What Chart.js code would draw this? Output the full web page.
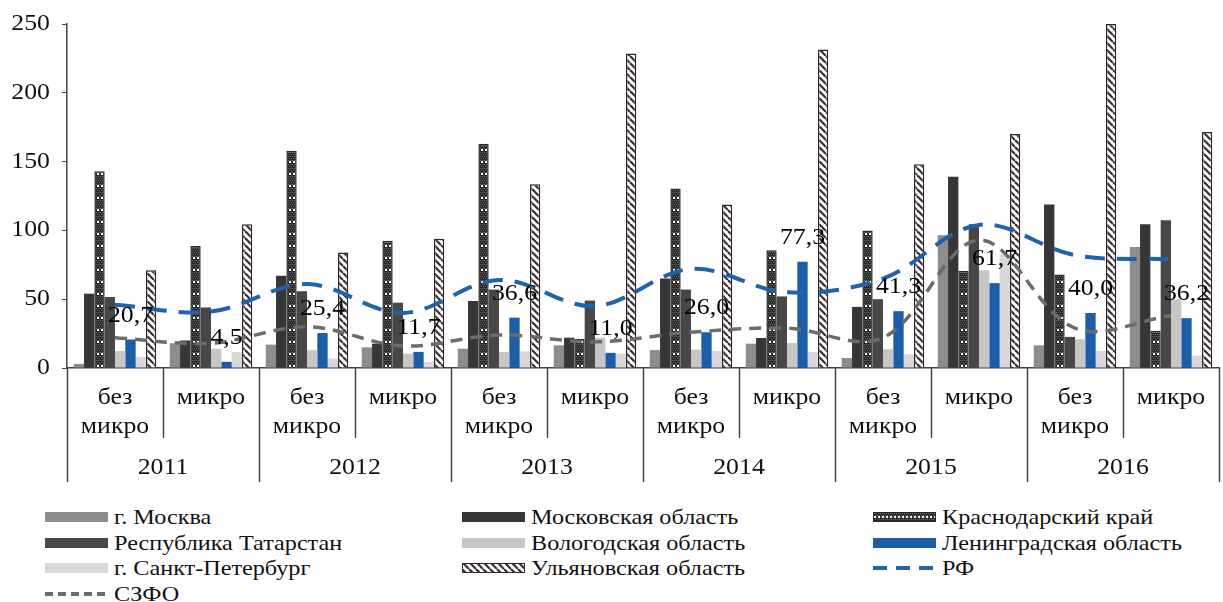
<!DOCTYPE html>
<html lang="ru">
<head>
<meta charset="utf-8">
<title>Chart</title>
<script src="https://cdn.jsdelivr.net/npm/chart.js@4.4.1/dist/chart.umd.min.js"></script>
<style>
  body { margin: 0; background: #fff; font-family: "Liberation Serif", "DejaVu Serif", "Times New Roman", serif; }
  #wrap { position: relative; width: 1223px; height: 495px; }
  #legend { position: absolute; left: 0; top: 504px; width: 1223px; }
  .item { position: absolute; display: flex; align-items: center; font-size: 22px; color: #111; white-space: nowrap; }
  .item canvas { margin-right: 6px; }
  .item span { display: inline-block; transform: scaleX(1.1); transform-origin: left center; }
</style>
</head>
<body>
<div id="wrap"><canvas id="myChart"></canvas></div>
<div id="legend"></div>

<script>
// Kategorien
const categories = [
  ['без', 'микро'], 'микро', ['без', 'микро'], 'микро', ['без', 'микро'], 'микро',
  ['без', 'микро'], 'микро', ['без', 'микро'], 'микро', ['без', 'микро'], 'микро'
];
const years = ['2011', '2012', '2013', '2014', '2015', '2016'];
const yTicks = [0, 50, 100, 150, 200, 250];

// Werte
const moskva     = [3, 18, 17, 15, 14, 16.5, 13, 17.7, 7.3, 96.5, 16.5, 88];
const moskObl    = [54, 20, 67, 17.7, 48.7, 22, 65, 21.8, 44.4, 139, 118.8, 104.5];
const krasnodar  = [143, 88.7, 157.8, 92.4, 163, 21, 130.4, 85.6, 100, 70.5, 68, 27];
const tatarstan  = [51.6, 44, 55.8, 47.5, 57, 49, 57, 52, 50, 104.5, 22.6, 107.4];
const vologda    = [12.4, 14, 12.9, 10.5, 11.6, 22, 13.4, 18.2, 13.6, 71, 20.9, 50];
const leningrad  = [20.7, 4.5, 25.4, 11.7, 36.6, 11.0, 26.0, 77.3, 41.3, 61.7, 40.0, 36.2];
const spb        = [8, 11.6, 6.8, 4.4, 12, 10.5, 12.4, 11.6, 10, 83, 12.4, 9];
const ulyanovsk  = [71, 104.5, 84, 94, 133.6, 228.6, 118.8, 231.5, 148, 170, 250, 171.6];
const rf         = [46, 41, 61, 40, 64, 45, 72, 55, 65, 104, 82, 79];
const szfo       = [22, 18, 30, 16, 24, 19, 26, 29, 22, 93, 29, 38];

const FONT = '"Liberation Serif", "DejaVu Serif", "Times New Roman", serif';

// Muster für Balken
function hatchPattern() {
    const c = document.createElement('canvas');
    c.width = 7; c.height = 7;
    const g = c.getContext('2d');
    g.fillStyle = '#fff';
    g.fillRect(0, 0, 7, 7);
    g.strokeStyle = '#3e2c30';
    g.lineWidth = 2.2;
    for (let k = -1; k <= 1; k++) {
        g.beginPath();
        g.moveTo(k * 7, 0);
        g.lineTo(k * 7 + 7, 7);
        g.stroke();
    }
    return g.createPattern(c, 'repeat');
}

function dotPattern() {
    const c = document.createElement('canvas');
    c.width = 4; c.height = 12;
    const g = c.getContext('2d');
    g.fillStyle = '#262626';
    g.fillRect(0, 0, 4, 12);
    g.fillStyle = '#6e6e6e';
    for (let y = 0; y < 12; y += 2) {
        g.fillRect((y / 2) % 2 === 0 ? 0 : 1, y, 1, 1);
        g.fillRect((y / 2) % 2 === 0 ? 2 : 3, y, 1, 1);
    }
    g.fillStyle = '#eee';
    g.fillRect(1, 5, 2, 2);
    return g.createPattern(c, 'repeat');
}

const hatch = hatchPattern();
const dots = dotPattern();

const barSeries = [
    { label: 'г. Москва', data: moskva, fill: '#8d8d8d', border: 0 },
    { label: 'Московская область', data: moskObl, fill: '#363636', border: 0 },
    { label: 'Краснодарский край', data: krasnodar, fill: dots, border: 1.5 },
    { label: 'Республика Татарстан', data: tatarstan, fill: '#474747', border: 0 },
    { label: 'Вологодская область', data: vologda, fill: '#c6c6c6', border: 0 },
    { label: 'Ленинградская область', data: leningrad, fill: '#1c5ca8', border: 0 },
    { label: ' г. Санкт-Петербург', data: spb, fill: '#d8d8d8', border: 0 },
    { label: 'Ульяновская область', data: ulyanovsk, fill: hatch, border: 1.5 }
];

const datasets = barSeries.map(s => ({
    type: 'bar',
    label: s.label,
    data: s.data,
    backgroundColor: s.fill,
    borderColor: '#2a2a2a',
    borderWidth: s.border,
    borderSkipped: 'bottom',
    categoryPercentage: 0.86,
    barPercentage: 1.0,
    order: 2
}));

datasets.push({
    type: 'line', label: 'РФ', data: rf,
    borderColor: '#1f62ad', borderWidth: 4, borderDash: [20, 12],
    pointRadius: 0, tension: 0.35, fill: false, order: 0
});
datasets.push({
    type: 'line', label: 'СЗФО', data: szfo,
    borderColor: '#6c6c6c', borderWidth: 3.5, borderDash: [12, 8],
    pointRadius: 0, tension: 0.35, fill: false, order: 1
});

// Text etwas breiter ziehen, wie im Original
function wideText(ctx, t, x, y) {
    ctx.save();
    ctx.translate(x, y);
    ctx.scale(1.12, 1);
    ctx.fillText(t, 0, 0);
    ctx.restore();
}

// zweistufige Achse unten + Beschriftung Ленинградская область
const axisPlugin = {
    id: 'axisPlugin',
    afterDatasetsDraw(chart) {
        const ctx = chart.ctx;
        const meta = chart.getDatasetMeta(5);
        ctx.save();
        ctx.font = '23px ' + FONT;
        ctx.fillStyle = '#000';
        ctx.textAlign = 'center';
        ctx.textBaseline = 'middle';
        meta.data.forEach((bar, i) => {
            wideText(ctx, leningrad[i].toFixed(1).replace('.', ','), bar.x, bar.y - 24);
        });
        ctx.restore();
    },
    afterDraw(chart) {
        const ctx = chart.ctx;
        const xs = chart.scales.x;
        const top = chart.chartArea.bottom;
        const w = xs.getPixelForValue(1) - xs.getPixelForValue(0);
        ctx.save();
        ctx.strokeStyle = '#444';
        ctx.lineWidth = 1.5;
        for (let i = 0; i <= categories.length; i++) {
            const x = Math.round(xs.getPixelForValue(i) - w / 2) + 0.5;
            ctx.beginPath();
            ctx.moveTo(x, top);
            ctx.lineTo(x, i % 2 === 0 ? top + 114 : top + 70);
            ctx.stroke();
        }
        ctx.fillStyle = '#111';
        ctx.font = '23px ' + FONT;
        ctx.textAlign = 'center';
        ctx.textBaseline = 'middle';
        categories.forEach((lab, i) => {
            const x = xs.getPixelForValue(i);
            const lines = Array.isArray(lab) ? lab : [lab];
            lines.forEach((t, k) => wideText(ctx, t, x, top + 30 + k * 29));
        });
        years.forEach((y, j) => {
            const x = (xs.getPixelForValue(2 * j) + xs.getPixelForValue(2 * j + 1)) / 2;
            wideText(ctx, y, x, top + 100);
        });
        // Y-Beschriftung
        const ys = chart.scales.y;
        ctx.textAlign = 'right';
        yTicks.forEach(v => wideText(ctx, String(v), 50 / 1.12 * 1.12, ys.getPixelForValue(v)));
        ctx.restore();
    }
};

const ctx = document.getElementById('myChart').getContext('2d');

let chart = new Chart(ctx, {
    data: {
        labels: categories.map((c, i) => i),
        datasets: datasets
    },
    options: {
        responsive: true,
        maintainAspectRatio: false,
        animation: false,
        devicePixelRatio: 1,
        layout: { padding: { top: 24, right: 4, left: 0, bottom: 0 } },
        plugins: {
            legend: { display: false },
            tooltip: { enabled: false }
        },
        scales: {
            x: {
                ticks: { display: false },
                grid: { display: false },
                border: { display: true, color: '#444', width: 1.5 },
                afterFit: (scale) => { scale.height = 127; }
            },
            y: {
                min: 0,
                max: 250,
                afterBuildTicks: (scale) => { scale.ticks = yTicks.map(v => ({ value: v })); },
                ticks: { display: false },
                grid: { drawOnChartArea: false, drawTicks: true, tickLength: 5, color: '#444' },
                border: { display: true, color: '#444', width: 1.5 },
                afterFit: (scale) => { scale.width = 67; }
            }
        }
    },
    plugins: [axisPlugin]
});

// Legende
const legendItems = [
    { i: 0, col: 0, row: 0 }, { i: 1, col: 1, row: 0 }, { i: 2, col: 2, row: 0 },
    { i: 3, col: 0, row: 1 }, { i: 4, col: 1, row: 1 }, { i: 5, col: 2, row: 1 },
    { i: 6, col: 0, row: 2 }, { i: 7, col: 1, row: 2 }, { i: 8, col: 2, row: 2 },
    { i: 9, col: 0, row: 3 }
];
const colX = [45, 462, 873];
const legendDiv = document.getElementById('legend');

legendItems.forEach(item => {
    const ds = datasets[item.i];
    const div = document.createElement('div');
    div.className = 'item';
    div.style.left = colX[item.col] + 'px';
    div.style.top = (item.row * 25.5) + 'px';
    const sw = document.createElement('canvas');
    sw.width = 63; sw.height = 12;
    const g = sw.getContext('2d');
    if (ds.type === 'bar') {
        g.fillStyle = ds.backgroundColor;
        g.fillRect(0, 1, 63, 10);
        if (ds.borderWidth) {
            g.strokeStyle = '#2a2a2a';
            g.lineWidth = 1;
            g.strokeRect(0.5, 1.5, 62, 9);
        }
    } else {
        g.strokeStyle = ds.borderColor;
        g.lineWidth = 4;
        g.setLineDash(ds.label === 'РФ' ? [14, 9] : [8, 5]);
        g.beginPath();
        g.moveTo(0, 6);
        g.lineTo(63, 6);
        g.stroke();
    }
    div.appendChild(sw);
    const span = document.createElement('span');
    span.textContent = ds.label;
    div.appendChild(span);
    legendDiv.appendChild(div);
});
</script>
</body>
</html>
